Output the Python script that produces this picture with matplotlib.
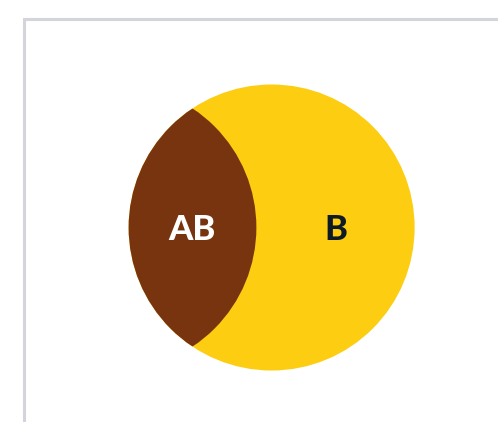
import numpy as np
import matplotlib
matplotlib.use("Agg")
import matplotlib.pyplot as plt
from matplotlib.patches import Circle

# set sizes and overlap (A is only visible through its overlap with B)
set_names = ["A", "B"]
set_sizes = [3.0, 3.0]
overlap_size = 1.0
region_labels = ["AB", "B"]

YELLOW = "#FCCD10"
BROWN = "#78340F"
NAVY = "#0E1A26"
FRAME = "#D3D5DB"


def lens_area(r1, r2, d):
    # area of intersection of two circles
    if d >= r1 + r2:
        return 0.0
    if d <= abs(r1 - r2):
        return np.pi * min(r1, r2) ** 2
    a = r1**2 * np.arccos((d**2 + r1**2 - r2**2) / (2 * d * r1))
    b = r2**2 * np.arccos((d**2 + r2**2 - r1**2) / (2 * d * r2))
    c = 0.5 * np.sqrt((-d + r1 + r2) * (d + r1 - r2) * (d - r1 + r2) * (d + r1 + r2))
    return a + b - c


def distance_for_overlap(r1, r2, target):
    lo, hi = abs(r1 - r2) + 1e-9, r1 + r2
    for _ in range(100):
        mid = (lo + hi) / 2
        if lens_area(r1, r2, mid) > target:
            lo = mid
        else:
            hi = mid
    return (lo + hi) / 2


# radii proportional to sqrt(size), scaled to pixels
px_per_unit = 143.0 / np.sqrt(set_sizes[1] / np.pi)
rA = np.sqrt(set_sizes[0] / np.pi) * px_per_unit
rB = np.sqrt(set_sizes[1] / np.pi) * px_per_unit
d = distance_for_overlap(rA, rB, overlap_size * px_per_unit**2)

cx_mid, cy = 192.5, 227.5
ax_A = cx_mid - d / 2
ax_B = cx_mid + d / 2

fig = plt.figure(figsize=(4.98, 4.22), dpi=100)
ax = fig.add_axes([0, 0, 1, 1])
ax.set_xlim(0, 498)
ax.set_ylim(422, 0)
ax.axis("off")

circB = Circle((ax_B, cy), rB, facecolor=YELLOW, edgecolor="none")
ax.add_patch(circB)
circA = Circle((ax_A, cy), rA, facecolor=BROWN, edgecolor="none")
ax.add_patch(circA)
circA.set_clip_path(circB)

# labels: lens centre and centre of the B-only part
lens_left = ax_B - rB
lens_right = ax_A + rA
ax.text((lens_left + lens_right) / 2, cy + 2, region_labels[0], color="white",
        fontsize=25, fontweight="black", family="Lato", ha="center", va="center")
ax.text((lens_right + ax_B + rB) / 2, cy + 2, region_labels[1], color=NAVY,
        fontsize=25, fontweight="black", family="Lato", ha="center", va="center")

# frame on top and left
ax.plot([24, 24, 498], [422, 19, 19], color=FRAME, lw=2.2, solid_joinstyle="miter")

fig.savefig("out.png", dpi=100)
